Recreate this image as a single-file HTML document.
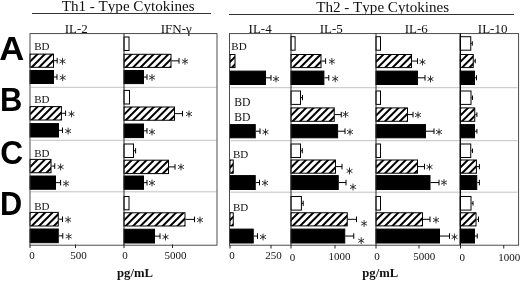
<!DOCTYPE html>
<html><head><meta charset="utf-8"><title>Cytokines</title>
<style>
html,body{margin:0;padding:0;background:#fff;}
body{width:520px;height:281px;overflow:hidden;}
svg{display:block;will-change:transform;filter:grayscale(1);}
text{font-family:"Liberation Serif",serif;fill:#111;}
.big{font-family:"Liberation Sans",sans-serif;font-weight:bold;font-size:33.8px;fill:#000;}
.bd{font-size:11px;}
.tk{font-size:11px;}
.col{font-size:13px;}
.ttl{font-size:15.1px;font-kerning:none;}
.ax{font-size:12.7px;font-weight:bold;}
</style></head><body>
<svg width="520" height="281" viewBox="0 0 520 281">
<defs>
<pattern id="h" patternUnits="userSpaceOnUse" width="5.2" height="5.2" patternTransform="rotate(45)">
<rect x="0" y="0" width="5.2" height="5.2" fill="#fff"/>
<rect x="1.2" y="0" width="2.15" height="5.2" fill="#000"/>
</pattern>
</defs>
<rect x="0" y="0" width="520" height="281" fill="#fff"/>

<text class="ttl" x="61.7" y="10.8">Th1 - Type Cytokines</text>
<text class="ttl" x="316.2" y="11.6">Th2 - Type Cytokines</text>
<line x1="32" y1="13.5" x2="211" y2="13.5" stroke="#333" stroke-width="1"/>
<line x1="229" y1="14.5" x2="514" y2="14.5" stroke="#333" stroke-width="1"/>
<text class="col" x="64.7" y="32.6">IL-2</text>
<text class="col" x="160.7" y="32.6">IFN-γ</text>
<text class="col" x="248.6" y="32.9">IL-4</text>
<text class="col" x="319.7" y="32.9">IL-5</text>
<text class="col" x="404.7" y="32.9">IL-6</text>
<text class="col" x="477.8" y="32.9">IL-10</text>
<text class="big" transform="translate(-0.66,59.8) scale(1.0266,1)" x="0" y="0">A</text>
<text class="big" transform="translate(0.08,111) scale(0.9142,1)" x="0" y="0">B</text>
<text class="big" transform="translate(0.2,163.8) scale(0.9379,1)" x="0" y="0">C</text>
<text class="big" transform="translate(0.1,215.35) scale(0.9083,1)" x="0" y="0">D</text>
<line x1="31" y1="87.3" x2="216.5" y2="87.3" stroke="#999" stroke-width="0.6"/>
<line x1="230.5" y1="87.7" x2="517.5" y2="87.7" stroke="#999" stroke-width="0.6"/>
<line x1="31" y1="140.3" x2="216.5" y2="140.3" stroke="#999" stroke-width="0.6"/>
<line x1="230.5" y1="140.70000000000002" x2="517.5" y2="140.70000000000002" stroke="#999" stroke-width="0.6"/>
<line x1="31" y1="191.8" x2="216.5" y2="191.8" stroke="#999" stroke-width="0.6"/>
<line x1="230.5" y1="192.20000000000002" x2="517.5" y2="192.20000000000002" stroke="#999" stroke-width="0.6"/>
<text class="bd" x="34.2" y="50">BD</text>
<clipPath id="c22"><rect x="30" y="54.10" width="23.50" height="13.20"/></clipPath>
<rect x="30" y="54.10" width="23.50" height="13.20" fill="#fff"/>
<path d="M7.00 69.80L25.20 51.60M14.40 69.80L32.60 51.60M21.80 69.80L40.00 51.60M29.20 69.80L47.40 51.60M36.60 69.80L54.80 51.60M44.00 69.80L62.20 51.60M51.40 69.80L69.60 51.60" stroke="#000" stroke-width="2.0" fill="none" clip-path="url(#c22)"/>
<rect x="30" y="54.10" width="23.50" height="13.20" fill="none" stroke="#000" stroke-width="1"/>
<path d="M54 60.7H57.2M57.2 57.90V63.50" stroke="#000" stroke-width="1" fill="none"/>
<path d="M62.5 57.9V64.7M59.54 59.60L65.46 63.00M59.54 63.00L65.46 59.60" stroke="#222" stroke-width="0.9" fill="none"/>
<rect x="30" y="70.50" width="23.50" height="13.00" fill="#000" stroke="#000" stroke-width="1"/>
<path d="M54 77.0H57M57 74.20V79.80" stroke="#000" stroke-width="1" fill="none"/>
<path d="M62.7 74.3V81.10000000000001M59.74 76.00L65.66 79.40M59.74 79.40L65.66 76.00" stroke="#222" stroke-width="0.9" fill="none"/>
<text class="bd" x="34.2" y="102.5">BD</text>
<clipPath id="c32"><rect x="30" y="106.60" width="31.40" height="13.40"/></clipPath>
<rect x="30" y="106.60" width="31.40" height="13.40" fill="#fff"/>
<path d="M7.00 122.50L25.40 104.10M14.40 122.50L32.80 104.10M21.80 122.50L40.20 104.10M29.20 122.50L47.60 104.10M36.60 122.50L55.00 104.10M44.00 122.50L62.40 104.10M51.40 122.50L69.80 104.10M58.80 122.50L77.20 104.10" stroke="#000" stroke-width="2.0" fill="none" clip-path="url(#c32)"/>
<rect x="30" y="106.60" width="31.40" height="13.40" fill="none" stroke="#000" stroke-width="1"/>
<path d="M61.9 113.3H65.6M65.6 110.50V116.10" stroke="#000" stroke-width="1" fill="none"/>
<path d="M71.5 110.6V117.4M68.54 112.30L74.46 115.70M68.54 115.70L74.46 112.30" stroke="#222" stroke-width="0.9" fill="none"/>
<rect x="30" y="123.60" width="28.50" height="13.40" fill="#000" stroke="#000" stroke-width="1"/>
<path d="M59 130.3H62.5M62.5 127.50V133.10" stroke="#000" stroke-width="1" fill="none"/>
<path d="M68.1 127.69999999999999V134.5M65.14 129.40L71.06 132.80M65.14 132.80L71.06 129.40" stroke="#222" stroke-width="0.9" fill="none"/>
<text class="bd" x="34.2" y="156.5">BD</text>
<clipPath id="c42"><rect x="30" y="159.40" width="21.00" height="13.35"/></clipPath>
<rect x="30" y="159.40" width="21.00" height="13.35" fill="#fff"/>
<path d="M7.00 175.25L25.35 156.90M14.40 175.25L32.75 156.90M21.80 175.25L40.15 156.90M29.20 175.25L47.55 156.90M36.60 175.25L54.95 156.90M44.00 175.25L62.35 156.90M51.40 175.25L69.75 156.90" stroke="#000" stroke-width="2.0" fill="none" clip-path="url(#c42)"/>
<rect x="30" y="159.40" width="21.00" height="13.35" fill="none" stroke="#000" stroke-width="1"/>
<path d="M51.5 166.075H54.75M54.75 163.27V168.88" stroke="#000" stroke-width="1" fill="none"/>
<path d="M60.6 163.6V170.4M57.64 165.30L63.56 168.70M57.64 168.70L63.56 165.30" stroke="#222" stroke-width="0.9" fill="none"/>
<rect x="30" y="176.00" width="25.50" height="13.25" fill="#000" stroke="#000" stroke-width="1"/>
<path d="M56 182.625H60.6M60.6 179.82V185.43" stroke="#000" stroke-width="1" fill="none"/>
<path d="M66 180.1V186.9M63.04 181.80L68.96 185.20M63.04 185.20L68.96 181.80" stroke="#222" stroke-width="0.9" fill="none"/>
<text class="bd" x="34.2" y="210.4">BD</text>
<clipPath id="c52"><rect x="30" y="212.40" width="28.25" height="13.60"/></clipPath>
<rect x="30" y="212.40" width="28.25" height="13.60" fill="#fff"/>
<path d="M7.00 228.50L25.60 209.90M14.40 228.50L33.00 209.90M21.80 228.50L40.40 209.90M29.20 228.50L47.80 209.90M36.60 228.50L55.20 209.90M44.00 228.50L62.60 209.90M51.40 228.50L70.00 209.90M58.80 228.50L77.40 209.90" stroke="#000" stroke-width="2.0" fill="none" clip-path="url(#c52)"/>
<rect x="30" y="212.40" width="28.25" height="13.60" fill="none" stroke="#000" stroke-width="1"/>
<path d="M58.75 219.2H62.5M62.5 216.40V222.00" stroke="#000" stroke-width="1" fill="none"/>
<path d="M68.1 216.35V223.15M65.14 218.05L71.06 221.45M65.14 221.45L71.06 218.05" stroke="#222" stroke-width="0.9" fill="none"/>
<rect x="30" y="229.00" width="28.25" height="13.70" fill="#000" stroke="#000" stroke-width="1"/>
<path d="M58.75 235.85H62.75M62.75 233.05V238.65" stroke="#000" stroke-width="1" fill="none"/>
<path d="M68.75 233.1V239.9M65.79 234.80L71.71 238.20M65.79 238.20L71.71 234.80" stroke="#222" stroke-width="0.9" fill="none"/>
<rect x="124" y="37.00" width="5.00" height="13.50" fill="#fff" stroke="#000" stroke-width="1"/>
<clipPath id="c62"><rect x="124" y="54.30" width="47.00" height="13.10"/></clipPath>
<rect x="124" y="54.30" width="47.00" height="13.10" fill="#fff"/>
<path d="M101.00 69.90L119.10 51.80M108.40 69.90L126.50 51.80M115.80 69.90L133.90 51.80M123.20 69.90L141.30 51.80M130.60 69.90L148.70 51.80M138.00 69.90L156.10 51.80M145.40 69.90L163.50 51.80M152.80 69.90L170.90 51.80M160.20 69.90L178.30 51.80M167.60 69.90L185.70 51.80" stroke="#000" stroke-width="2.0" fill="none" clip-path="url(#c62)"/>
<rect x="124" y="54.30" width="47.00" height="13.10" fill="none" stroke="#000" stroke-width="1"/>
<path d="M171.5 60.85H179M179 58.05V63.65" stroke="#000" stroke-width="1" fill="none"/>
<path d="M185 58.0V64.8M182.04 59.70L187.96 63.10M182.04 63.10L187.96 59.70" stroke="#222" stroke-width="0.9" fill="none"/>
<rect x="124" y="70.50" width="19.50" height="13.10" fill="#000" stroke="#000" stroke-width="1"/>
<path d="M144 77.05H147M147 74.25V79.85" stroke="#000" stroke-width="1" fill="none"/>
<path d="M152 74.1V80.9M149.04 75.80L154.96 79.20M149.04 79.20L154.96 75.80" stroke="#222" stroke-width="0.9" fill="none"/>
<rect x="124" y="90.40" width="5.50" height="13.60" fill="#fff" stroke="#000" stroke-width="1"/>
<clipPath id="c72"><rect x="124" y="107.00" width="50.50" height="13.25"/></clipPath>
<rect x="124" y="107.00" width="50.50" height="13.25" fill="#fff"/>
<path d="M101.00 122.75L119.25 104.50M108.40 122.75L126.65 104.50M115.80 122.75L134.05 104.50M123.20 122.75L141.45 104.50M130.60 122.75L148.85 104.50M138.00 122.75L156.25 104.50M145.40 122.75L163.65 104.50M152.80 122.75L171.05 104.50M160.20 122.75L178.45 104.50M167.60 122.75L185.85 104.50M175.00 122.75L193.25 104.50" stroke="#000" stroke-width="2.0" fill="none" clip-path="url(#c72)"/>
<rect x="124" y="107.00" width="50.50" height="13.25" fill="none" stroke="#000" stroke-width="1"/>
<path d="M175 113.625H182.5M182.5 110.83V116.42" stroke="#000" stroke-width="1" fill="none"/>
<path d="M189 110.6V117.4M186.04 112.30L191.96 115.70M186.04 115.70L191.96 112.30" stroke="#222" stroke-width="0.9" fill="none"/>
<rect x="124" y="124.00" width="19.50" height="13.60" fill="#000" stroke="#000" stroke-width="1"/>
<path d="M144 130.8H147M147 128.00V133.60" stroke="#000" stroke-width="1" fill="none"/>
<path d="M152 128.6V135.4M149.04 130.30L154.96 133.70M149.04 133.70L154.96 130.30" stroke="#222" stroke-width="0.9" fill="none"/>
<rect x="124" y="144.00" width="9.50" height="13.50" fill="#fff" stroke="#000" stroke-width="1"/>
<path d="M134 150.75H135.6M135.6 148.05V153.45" stroke="#000" stroke-width="1" fill="none"/>
<clipPath id="c83"><rect x="124" y="160.20" width="44.50" height="13.40"/></clipPath>
<rect x="124" y="160.20" width="44.50" height="13.40" fill="#fff"/>
<path d="M101.00 176.10L119.40 157.70M108.40 176.10L126.80 157.70M115.80 176.10L134.20 157.70M123.20 176.10L141.60 157.70M130.60 176.10L149.00 157.70M138.00 176.10L156.40 157.70M145.40 176.10L163.80 157.70M152.80 176.10L171.20 157.70M160.20 176.10L178.60 157.70M167.60 176.10L186.00 157.70" stroke="#000" stroke-width="2.0" fill="none" clip-path="url(#c83)"/>
<rect x="124" y="160.20" width="44.50" height="13.40" fill="none" stroke="#000" stroke-width="1"/>
<path d="M169 166.89999999999998H175M175 164.10V169.70" stroke="#000" stroke-width="1" fill="none"/>
<path d="M181 163.6V170.4M178.04 165.30L183.96 168.70M178.04 168.70L183.96 165.30" stroke="#222" stroke-width="0.9" fill="none"/>
<rect x="124" y="176.00" width="19.50" height="13.30" fill="#000" stroke="#000" stroke-width="1"/>
<path d="M144 182.65H147M147 179.85V185.45" stroke="#000" stroke-width="1" fill="none"/>
<path d="M152 179.6V186.4M149.04 181.30L154.96 184.70M149.04 184.70L154.96 181.30" stroke="#222" stroke-width="0.9" fill="none"/>
<rect x="124" y="196.50" width="5.00" height="13.30" fill="#fff" stroke="#000" stroke-width="1"/>
<clipPath id="c93"><rect x="124" y="212.80" width="61.00" height="13.20"/></clipPath>
<rect x="124" y="212.80" width="61.00" height="13.20" fill="#fff"/>
<path d="M101.00 228.50L119.20 210.30M108.40 228.50L126.60 210.30M115.80 228.50L134.00 210.30M123.20 228.50L141.40 210.30M130.60 228.50L148.80 210.30M138.00 228.50L156.20 210.30M145.40 228.50L163.60 210.30M152.80 228.50L171.00 210.30M160.20 228.50L178.40 210.30M167.60 228.50L185.80 210.30M175.00 228.50L193.20 210.30M182.40 228.50L200.60 210.30" stroke="#000" stroke-width="2.0" fill="none" clip-path="url(#c93)"/>
<rect x="124" y="212.80" width="61.00" height="13.20" fill="none" stroke="#000" stroke-width="1"/>
<path d="M185.5 219.4H194.5M194.5 216.60V222.20" stroke="#000" stroke-width="1" fill="none"/>
<path d="M200 216.6V223.4M197.04 218.30L202.96 221.70M197.04 221.70L202.96 218.30" stroke="#222" stroke-width="0.9" fill="none"/>
<rect x="124" y="229.25" width="30.50" height="13.75" fill="#000" stroke="#000" stroke-width="1"/>
<path d="M155 236.125H160M160 233.32V238.93" stroke="#000" stroke-width="1" fill="none"/>
<path d="M165.5 233.6V240.4M162.54 235.30L168.46 238.70M162.54 238.70L168.46 235.30" stroke="#222" stroke-width="0.9" fill="none"/>
<text class="bd" x="231.3" y="50">BD</text>
<clipPath id="c103"><rect x="230" y="54.50" width="5.00" height="13.10"/></clipPath>
<rect x="230" y="54.50" width="5.00" height="13.10" fill="#fff"/>
<path d="M207.00 70.10L225.10 52.00M214.40 70.10L232.50 52.00M221.80 70.10L239.90 52.00M229.20 70.10L247.30 52.00" stroke="#000" stroke-width="2.0" fill="none" clip-path="url(#c103)"/>
<rect x="230" y="54.50" width="5.00" height="13.10" fill="none" stroke="#000" stroke-width="1"/>
<rect x="230" y="71.10" width="35.50" height="13.40" fill="#000" stroke="#000" stroke-width="1"/>
<path d="M266 77.8H271M271 75.00V80.60" stroke="#000" stroke-width="1" fill="none"/>
<path d="M276 75.6V82.4M273.04 77.30L278.96 80.70M273.04 80.70L278.96 77.30" stroke="#222" stroke-width="0.9" fill="none"/>
<text class="bd" x="234.2" y="106.1" style="font-size:11.7px">BD</text>
<text class="bd" x="234.2" y="121.4" style="font-size:11.7px">BD</text>
<rect x="230" y="124.60" width="25.25" height="13.20" fill="#000" stroke="#000" stroke-width="1"/>
<path d="M255.75 131.2H260M260 128.40V134.00" stroke="#000" stroke-width="1" fill="none"/>
<path d="M265.5 128.6V135.4M262.54 130.30L268.46 133.70M262.54 133.70L268.46 130.30" stroke="#222" stroke-width="0.9" fill="none"/>
<text class="bd" x="233" y="158">BD</text>
<clipPath id="c116"><rect x="230" y="160.00" width="3.25" height="13.20"/></clipPath>
<rect x="230" y="160.00" width="3.25" height="13.20" fill="#fff"/>
<path d="M207.00 175.70L225.20 157.50M214.40 175.70L232.60 157.50M221.80 175.70L240.00 157.50M229.20 175.70L247.40 157.50" stroke="#000" stroke-width="2.0" fill="none" clip-path="url(#c116)"/>
<rect x="230" y="160.00" width="3.25" height="13.20" fill="none" stroke="#000" stroke-width="1"/>
<rect x="230" y="175.60" width="25.25" height="13.90" fill="#000" stroke="#000" stroke-width="1"/>
<path d="M255.75 182.55H259.5M259.5 179.75V185.35" stroke="#000" stroke-width="1" fill="none"/>
<path d="M265 179.6V186.4M262.04 181.30L267.96 184.70M262.04 184.70L267.96 181.30" stroke="#222" stroke-width="0.9" fill="none"/>
<text class="bd" x="233" y="211.4">BD</text>
<clipPath id="c124"><rect x="230" y="212.75" width="3.25" height="13.15"/></clipPath>
<rect x="230" y="212.75" width="3.25" height="13.15" fill="#fff"/>
<path d="M207.00 228.40L225.15 210.25M214.40 228.40L232.55 210.25M221.80 228.40L239.95 210.25M229.20 228.40L247.35 210.25" stroke="#000" stroke-width="2.0" fill="none" clip-path="url(#c124)"/>
<rect x="230" y="212.75" width="3.25" height="13.15" fill="none" stroke="#000" stroke-width="1"/>
<rect x="230" y="229.10" width="23.25" height="13.90" fill="#000" stroke="#000" stroke-width="1"/>
<path d="M253.75 236.05H257.5M257.5 233.25V238.85" stroke="#000" stroke-width="1" fill="none"/>
<path d="M263 233.6V240.4M260.04 235.30L265.96 238.70M260.04 238.70L265.96 235.30" stroke="#222" stroke-width="0.9" fill="none"/>
<rect x="291" y="36.70" width="4.10" height="13.50" fill="#fff" stroke="#000" stroke-width="1"/>
<clipPath id="c132"><rect x="291" y="54.50" width="30.00" height="13.10"/></clipPath>
<rect x="291" y="54.50" width="30.00" height="13.10" fill="#fff"/>
<path d="M268.00 70.10L286.10 52.00M275.40 70.10L293.50 52.00M282.80 70.10L300.90 52.00M290.20 70.10L308.30 52.00M297.60 70.10L315.70 52.00M305.00 70.10L323.10 52.00M312.40 70.10L330.50 52.00M319.80 70.10L337.90 52.00" stroke="#000" stroke-width="2.0" fill="none" clip-path="url(#c132)"/>
<rect x="291" y="54.50" width="30.00" height="13.10" fill="none" stroke="#000" stroke-width="1"/>
<path d="M321.5 61.05H325.6M325.6 58.25V63.85" stroke="#000" stroke-width="1" fill="none"/>
<path d="M331.9 58.0V64.8M328.94 59.70L334.86 63.10M328.94 63.10L334.86 59.70" stroke="#222" stroke-width="0.9" fill="none"/>
<rect x="291" y="71.10" width="32.90" height="13.40" fill="#000" stroke="#000" stroke-width="1"/>
<path d="M324.4 77.8H328.75M328.75 75.00V80.60" stroke="#000" stroke-width="1" fill="none"/>
<path d="M335.2 75.39999999999999V82.2M332.24 77.10L338.16 80.50M332.24 80.50L338.16 77.10" stroke="#222" stroke-width="0.9" fill="none"/>
<rect x="291" y="91.00" width="9.50" height="13.40" fill="#fff" stroke="#000" stroke-width="1"/>
<path d="M301 97.7H302.5M302.5 95.10V100.30" stroke="#000" stroke-width="1" fill="none"/>
<clipPath id="c143"><rect x="291" y="107.90" width="43.25" height="13.40"/></clipPath>
<rect x="291" y="107.90" width="43.25" height="13.40" fill="#fff"/>
<path d="M268.00 123.80L286.40 105.40M275.40 123.80L293.80 105.40M282.80 123.80L301.20 105.40M290.20 123.80L308.60 105.40M297.60 123.80L316.00 105.40M305.00 123.80L323.40 105.40M312.40 123.80L330.80 105.40M319.80 123.80L338.20 105.40M327.20 123.80L345.60 105.40M334.60 123.80L353.00 105.40" stroke="#000" stroke-width="2.0" fill="none" clip-path="url(#c143)"/>
<rect x="291" y="107.90" width="43.25" height="13.40" fill="none" stroke="#000" stroke-width="1"/>
<path d="M334.75 114.6H341.25M341.25 111.80V117.40" stroke="#000" stroke-width="1" fill="none"/>
<path d="M345.5 110.89999999999999V117.7M342.54 112.60L348.46 116.00M342.54 116.00L348.46 112.60" stroke="#222" stroke-width="0.9" fill="none"/>
<rect x="291" y="124.60" width="46.60" height="13.20" fill="#000" stroke="#000" stroke-width="1"/>
<path d="M338.1 131.2H345M345 128.40V134.00" stroke="#000" stroke-width="1" fill="none"/>
<path d="M350 128.6V135.4M347.04 130.30L352.96 133.70M347.04 133.70L352.96 130.30" stroke="#222" stroke-width="0.9" fill="none"/>
<rect x="291" y="144.00" width="9.50" height="13.50" fill="#fff" stroke="#000" stroke-width="1"/>
<path d="M301 150.75H302.3M302.3 148.15V153.35" stroke="#000" stroke-width="1" fill="none"/>
<clipPath id="c154"><rect x="291" y="160.00" width="44.50" height="13.20"/></clipPath>
<rect x="291" y="160.00" width="44.50" height="13.20" fill="#fff"/>
<path d="M268.00 175.70L286.20 157.50M275.40 175.70L293.60 157.50M282.80 175.70L301.00 157.50M290.20 175.70L308.40 157.50M297.60 175.70L315.80 157.50M305.00 175.70L323.20 157.50M312.40 175.70L330.60 157.50M319.80 175.70L338.00 157.50M327.20 175.70L345.40 157.50M334.60 175.70L352.80 157.50" stroke="#000" stroke-width="2.0" fill="none" clip-path="url(#c154)"/>
<rect x="291" y="160.00" width="44.50" height="13.20" fill="none" stroke="#000" stroke-width="1"/>
<path d="M336 166.6H342M342 163.80V169.40" stroke="#000" stroke-width="1" fill="none"/>
<path d="M349.5 167.6V174.4M346.54 169.30L352.46 172.70M346.54 172.70L352.46 169.30" stroke="#222" stroke-width="0.9" fill="none"/>
<rect x="291" y="175.60" width="47.25" height="13.90" fill="#000" stroke="#000" stroke-width="1"/>
<path d="M338.75 182.55H346M346 179.75V185.35" stroke="#000" stroke-width="1" fill="none"/>
<path d="M353 183.6V190.4M350.04 185.30L355.96 188.70M350.04 188.70L355.96 185.30" stroke="#222" stroke-width="0.9" fill="none"/>
<rect x="291" y="196.50" width="10.40" height="13.60" fill="#fff" stroke="#000" stroke-width="1"/>
<path d="M301.9 203.3H303.2M303.2 200.70V205.90" stroke="#000" stroke-width="1" fill="none"/>
<clipPath id="c165"><rect x="291" y="212.75" width="56.25" height="13.15"/></clipPath>
<rect x="291" y="212.75" width="56.25" height="13.15" fill="#fff"/>
<path d="M268.00 228.40L286.15 210.25M275.40 228.40L293.55 210.25M282.80 228.40L300.95 210.25M290.20 228.40L308.35 210.25M297.60 228.40L315.75 210.25M305.00 228.40L323.15 210.25M312.40 228.40L330.55 210.25M319.80 228.40L337.95 210.25M327.20 228.40L345.35 210.25M334.60 228.40L352.75 210.25M342.00 228.40L360.15 210.25" stroke="#000" stroke-width="2.0" fill="none" clip-path="url(#c165)"/>
<rect x="291" y="212.75" width="56.25" height="13.15" fill="none" stroke="#000" stroke-width="1"/>
<path d="M347.75 219.325H356.5M356.5 216.52V222.12" stroke="#000" stroke-width="1" fill="none"/>
<path d="M364.1 220.1V226.9M361.14 221.80L367.06 225.20M361.14 225.20L367.06 221.80" stroke="#222" stroke-width="0.9" fill="none"/>
<rect x="291" y="229.10" width="53.75" height="13.90" fill="#000" stroke="#000" stroke-width="1"/>
<path d="M345.25 236.05H353.75M353.75 233.25V238.85" stroke="#000" stroke-width="1" fill="none"/>
<path d="M361.2 237.29999999999998V244.1M358.24 239.00L364.16 242.40M358.24 242.40L364.16 239.00" stroke="#222" stroke-width="0.9" fill="none"/>
<rect x="376" y="36.70" width="4.50" height="13.50" fill="#fff" stroke="#000" stroke-width="1"/>
<clipPath id="c175"><rect x="376" y="54.50" width="35.50" height="13.10"/></clipPath>
<rect x="376" y="54.50" width="35.50" height="13.10" fill="#fff"/>
<path d="M353.00 70.10L371.10 52.00M360.40 70.10L378.50 52.00M367.80 70.10L385.90 52.00M375.20 70.10L393.30 52.00M382.60 70.10L400.70 52.00M390.00 70.10L408.10 52.00M397.40 70.10L415.50 52.00M404.80 70.10L422.90 52.00M412.20 70.10L430.30 52.00" stroke="#000" stroke-width="2.0" fill="none" clip-path="url(#c175)"/>
<rect x="376" y="54.50" width="35.50" height="13.10" fill="none" stroke="#000" stroke-width="1"/>
<path d="M412 61.05H417.5M417.5 58.25V63.85" stroke="#000" stroke-width="1" fill="none"/>
<path d="M422.5 58.6V65.4M419.54 60.30L425.46 63.70M419.54 63.70L425.46 60.30" stroke="#222" stroke-width="0.9" fill="none"/>
<rect x="376" y="71.10" width="41.50" height="13.40" fill="#000" stroke="#000" stroke-width="1"/>
<path d="M418 77.8H425M425 75.00V80.60" stroke="#000" stroke-width="1" fill="none"/>
<path d="M430.5 75.6V82.4M427.54 77.30L433.46 80.70M427.54 80.70L433.46 77.30" stroke="#222" stroke-width="0.9" fill="none"/>
<rect x="376" y="91.00" width="4.50" height="13.40" fill="#fff" stroke="#000" stroke-width="1"/>
<clipPath id="c185"><rect x="376" y="107.90" width="31.50" height="13.40"/></clipPath>
<rect x="376" y="107.90" width="31.50" height="13.40" fill="#fff"/>
<path d="M353.00 123.80L371.40 105.40M360.40 123.80L378.80 105.40M367.80 123.80L386.20 105.40M375.20 123.80L393.60 105.40M382.60 123.80L401.00 105.40M390.00 123.80L408.40 105.40M397.40 123.80L415.80 105.40M404.80 123.80L423.20 105.40" stroke="#000" stroke-width="2.0" fill="none" clip-path="url(#c185)"/>
<rect x="376" y="107.90" width="31.50" height="13.40" fill="none" stroke="#000" stroke-width="1"/>
<path d="M408 114.6H413M413 111.80V117.40" stroke="#000" stroke-width="1" fill="none"/>
<path d="M418 111.6V118.4M415.04 113.30L420.96 116.70M415.04 116.70L420.96 113.30" stroke="#222" stroke-width="0.9" fill="none"/>
<rect x="376" y="124.60" width="49.50" height="13.20" fill="#000" stroke="#000" stroke-width="1"/>
<path d="M426 131.2H434M434 128.40V134.00" stroke="#000" stroke-width="1" fill="none"/>
<path d="M439 128.6V135.4M436.04 130.30L441.96 133.70M436.04 133.70L441.96 130.30" stroke="#222" stroke-width="0.9" fill="none"/>
<rect x="376" y="144.00" width="4.50" height="13.50" fill="#fff" stroke="#000" stroke-width="1"/>
<clipPath id="c195"><rect x="376" y="160.00" width="41.50" height="13.20"/></clipPath>
<rect x="376" y="160.00" width="41.50" height="13.20" fill="#fff"/>
<path d="M353.00 175.70L371.20 157.50M360.40 175.70L378.60 157.50M367.80 175.70L386.00 157.50M375.20 175.70L393.40 157.50M382.60 175.70L400.80 157.50M390.00 175.70L408.20 157.50M397.40 175.70L415.60 157.50M404.80 175.70L423.00 157.50M412.20 175.70L430.40 157.50" stroke="#000" stroke-width="2.0" fill="none" clip-path="url(#c195)"/>
<rect x="376" y="160.00" width="41.50" height="13.20" fill="none" stroke="#000" stroke-width="1"/>
<path d="M418 166.6H424.5M424.5 163.80V169.40" stroke="#000" stroke-width="1" fill="none"/>
<path d="M429.5 163.6V170.4M426.54 165.30L432.46 168.70M426.54 168.70L432.46 165.30" stroke="#222" stroke-width="0.9" fill="none"/>
<rect x="376" y="175.60" width="54.00" height="13.90" fill="#000" stroke="#000" stroke-width="1"/>
<path d="M430.5 182.55H439M439 179.75V185.35" stroke="#000" stroke-width="1" fill="none"/>
<path d="M444 179.1V185.9M441.04 180.80L446.96 184.20M441.04 184.20L446.96 180.80" stroke="#222" stroke-width="0.9" fill="none"/>
<rect x="376" y="196.50" width="4.50" height="13.60" fill="#fff" stroke="#000" stroke-width="1"/>
<clipPath id="c205"><rect x="376" y="212.75" width="46.50" height="13.15"/></clipPath>
<rect x="376" y="212.75" width="46.50" height="13.15" fill="#fff"/>
<path d="M353.00 228.40L371.15 210.25M360.40 228.40L378.55 210.25M367.80 228.40L385.95 210.25M375.20 228.40L393.35 210.25M382.60 228.40L400.75 210.25M390.00 228.40L408.15 210.25M397.40 228.40L415.55 210.25M404.80 228.40L422.95 210.25M412.20 228.40L430.35 210.25M419.60 228.40L437.75 210.25" stroke="#000" stroke-width="2.0" fill="none" clip-path="url(#c205)"/>
<rect x="376" y="212.75" width="46.50" height="13.15" fill="none" stroke="#000" stroke-width="1"/>
<path d="M423 219.325H430M430 216.52V222.12" stroke="#000" stroke-width="1" fill="none"/>
<path d="M436 216.6V223.4M433.04 218.30L438.96 221.70M433.04 221.70L438.96 218.30" stroke="#222" stroke-width="0.9" fill="none"/>
<rect x="376" y="229.10" width="63.50" height="13.90" fill="#000" stroke="#000" stroke-width="1"/>
<path d="M440 236.05H449.5M449.5 233.25V238.85" stroke="#000" stroke-width="1" fill="none"/>
<path d="M454.5 233.6V240.4M451.54 235.30L457.46 238.70M451.54 238.70L457.46 235.30" stroke="#222" stroke-width="0.9" fill="none"/>
<rect x="460.3" y="36.70" width="10.45" height="13.50" fill="#fff" stroke="#000" stroke-width="1"/>
<path d="M471.25 43.45H472.3M472.3 41.25V45.65" stroke="#000" stroke-width="1" fill="none"/>
<clipPath id="c216"><rect x="460.3" y="54.50" width="12.95" height="13.10"/></clipPath>
<rect x="460.3" y="54.50" width="12.95" height="13.10" fill="#fff"/>
<path d="M437.30 70.10L455.40 52.00M444.70 70.10L462.80 52.00M452.10 70.10L470.20 52.00M459.50 70.10L477.60 52.00M466.90 70.10L485.00 52.00M474.30 70.10L492.40 52.00" stroke="#000" stroke-width="2.0" fill="none" clip-path="url(#c216)"/>
<rect x="460.3" y="54.50" width="12.95" height="13.10" fill="none" stroke="#000" stroke-width="1"/>
<path d="M473.75 61.05H475.25M475.25 58.85V63.25" stroke="#000" stroke-width="1" fill="none"/>
<rect x="460.3" y="71.10" width="14.20" height="13.40" fill="#000" stroke="#000" stroke-width="1"/>
<path d="M475 77.8H476.5M476.5 75.30V80.30" stroke="#000" stroke-width="1" fill="none"/>
<rect x="460.3" y="91.00" width="10.70" height="13.40" fill="#fff" stroke="#000" stroke-width="1"/>
<path d="M471.5 97.7H472.5M472.5 95.50V99.90" stroke="#000" stroke-width="1" fill="none"/>
<clipPath id="c225"><rect x="460.3" y="107.90" width="14.45" height="13.40"/></clipPath>
<rect x="460.3" y="107.90" width="14.45" height="13.40" fill="#fff"/>
<path d="M437.30 123.80L455.70 105.40M444.70 123.80L463.10 105.40M452.10 123.80L470.50 105.40M459.50 123.80L477.90 105.40M466.90 123.80L485.30 105.40M474.30 123.80L492.70 105.40" stroke="#000" stroke-width="2.0" fill="none" clip-path="url(#c225)"/>
<rect x="460.3" y="107.90" width="14.45" height="13.40" fill="none" stroke="#000" stroke-width="1"/>
<path d="M475.25 114.6H476.9M476.9 112.30V116.90" stroke="#000" stroke-width="1" fill="none"/>
<rect x="460.3" y="124.60" width="14.20" height="13.20" fill="#000" stroke="#000" stroke-width="1"/>
<path d="M475 131.2H476.9M476.9 128.90V133.50" stroke="#000" stroke-width="1" fill="none"/>
<rect x="460.3" y="144.00" width="10.45" height="13.50" fill="#fff" stroke="#000" stroke-width="1"/>
<path d="M471.25 150.75H472.5M472.5 148.55V152.95" stroke="#000" stroke-width="1" fill="none"/>
<clipPath id="c234"><rect x="460.3" y="160.00" width="16.10" height="13.20"/></clipPath>
<rect x="460.3" y="160.00" width="16.10" height="13.20" fill="#fff"/>
<path d="M437.30 175.70L455.50 157.50M444.70 175.70L462.90 157.50M452.10 175.70L470.30 157.50M459.50 175.70L477.70 157.50M466.90 175.70L485.10 157.50M474.30 175.70L492.50 157.50" stroke="#000" stroke-width="2.0" fill="none" clip-path="url(#c234)"/>
<rect x="460.3" y="160.00" width="16.10" height="13.20" fill="none" stroke="#000" stroke-width="1"/>
<path d="M476.9 166.6H479.4M479.4 163.90V169.30" stroke="#000" stroke-width="1" fill="none"/>
<rect x="460.3" y="175.60" width="16.45" height="13.90" fill="#000" stroke="#000" stroke-width="1"/>
<path d="M477.25 182.55H479.4M479.4 179.75V185.35" stroke="#000" stroke-width="1" fill="none"/>
<rect x="460.3" y="196.50" width="10.70" height="13.60" fill="#fff" stroke="#000" stroke-width="1"/>
<path d="M471.5 203.3H473M473 201.10V205.50" stroke="#000" stroke-width="1" fill="none"/>
<clipPath id="c243"><rect x="460.3" y="212.75" width="15.70" height="13.15"/></clipPath>
<rect x="460.3" y="212.75" width="15.70" height="13.15" fill="#fff"/>
<path d="M437.30 228.40L455.45 210.25M444.70 228.40L462.85 210.25M452.10 228.40L470.25 210.25M459.50 228.40L477.65 210.25M466.90 228.40L485.05 210.25M474.30 228.40L492.45 210.25" stroke="#000" stroke-width="2.0" fill="none" clip-path="url(#c243)"/>
<rect x="460.3" y="212.75" width="15.70" height="13.15" fill="none" stroke="#000" stroke-width="1"/>
<path d="M476.5 219.325H478.5M478.5 216.52V222.12" stroke="#000" stroke-width="1" fill="none"/>
<rect x="460.3" y="229.10" width="14.20" height="13.90" fill="#000" stroke="#000" stroke-width="1"/>
<path d="M475 236.05H477.25M477.25 233.55V238.55" stroke="#000" stroke-width="1" fill="none"/>
<rect x="30" y="33.6" width="187" height="211.6" fill="none" stroke="#3a3a3a" stroke-width="0.9"/>
<line x1="124" y1="33.6" x2="124" y2="245" stroke="#222" stroke-width="1"/>
<rect x="229.5" y="33.6" width="289.1" height="211.6" fill="none" stroke="#3a3a3a" stroke-width="0.9"/>
<line x1="291" y1="33.6" x2="291" y2="245.2" stroke="#222" stroke-width="1"/>
<line x1="376" y1="33.6" x2="376" y2="245.2" stroke="#222" stroke-width="1"/>
<line x1="460.3" y1="33.6" x2="460.3" y2="245.2" stroke="#000" stroke-width="1.4"/>
<line x1="30" y1="244.5" x2="30" y2="248" stroke="#222" stroke-width="1"/>
<line x1="75.5" y1="244.5" x2="75.5" y2="248" stroke="#222" stroke-width="1"/>
<line x1="124" y1="244.5" x2="124" y2="248" stroke="#222" stroke-width="1"/>
<line x1="172.5" y1="244.5" x2="172.5" y2="248" stroke="#222" stroke-width="1"/>
<line x1="230" y1="245" x2="230" y2="248.5" stroke="#222" stroke-width="1"/>
<line x1="271" y1="245" x2="271" y2="248.5" stroke="#222" stroke-width="1"/>
<line x1="291" y1="245" x2="291" y2="248.5" stroke="#222" stroke-width="1"/>
<line x1="335" y1="245" x2="335" y2="248.5" stroke="#222" stroke-width="1"/>
<line x1="376" y1="245" x2="376" y2="248.5" stroke="#222" stroke-width="1"/>
<line x1="419" y1="245" x2="419" y2="248.5" stroke="#222" stroke-width="1"/>
<line x1="460.5" y1="245" x2="460.5" y2="248.5" stroke="#222" stroke-width="1"/>
<line x1="503.75" y1="245" x2="503.75" y2="248.5" stroke="#222" stroke-width="1"/>
<text class="tk" x="29.2" y="259.2">0</text>
<text class="tk" x="70.3" y="259.2">500</text>
<text class="tk" x="122.2" y="259.2">0</text>
<text class="tk" x="164.5" y="259.2">5000</text>
<text class="tk" x="229.2" y="259.3">0</text>
<text class="tk" x="265.3" y="259.3">250</text>
<text class="tk" x="289.8" y="260.6">0</text>
<text class="tk" x="328.5" y="260.4">1000</text>
<text class="tk" x="374.2" y="260.4">0</text>
<text class="tk" x="413.3" y="260.4">5000</text>
<text class="tk" x="459.5" y="260.6">0</text>
<text class="tk" x="498.3" y="260.6">1000</text>
<text class="ax" x="117" y="276.7">pg/mL</text>
<text class="ax" x="362.3" y="277.3">pg/mL</text>
</svg></body></html>
